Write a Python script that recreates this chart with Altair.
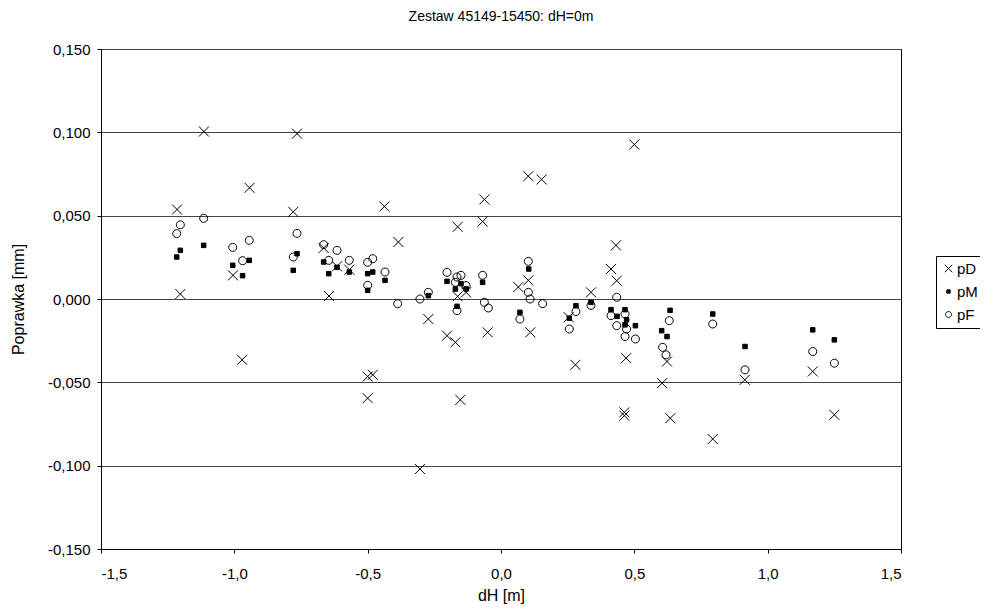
import altair as alt
import pandas as pd

# pD series (crosses)
pD_x = [-1.215, -1.2025, -1.114, -1.005, -0.971, -0.943, -0.779, -0.765, -0.665, -0.645,
        -0.615, -0.569, -0.500, -0.481, -0.500, -0.4375, -0.385, -0.304, -0.2725, -0.2025,
        -0.171, -0.1625, -0.1625, -0.1525, -0.131, -0.069, -0.0625, -0.050, 0.065, 0.1025,
        0.1025, 0.110, 0.1525, 0.254, 0.279, 0.3375, 0.4125, 0.431, 0.434, 0.4625,
        0.4625, 0.469, 0.500, 0.604, 0.6225, 0.635, 0.794, 0.914, 1.169, 1.250]
pD_y = [0.0537, 0.0030, 0.1005, 0.0142, -0.0365, 0.0667, 0.0523, 0.0992, 0.0306, 0.0018,
        0.0196, 0.0176, -0.0465, -0.0455, -0.0595, 0.0555, 0.0342, -0.1020, -0.0120, -0.0220,
        -0.0260, 0.0433, 0.0016, -0.0605, 0.0040, 0.0465, 0.0597, -0.0200, 0.0072, 0.0737,
        0.0112, -0.0200, 0.0717, -0.0110, -0.0395, 0.0040, 0.0180, 0.0322, 0.0110, -0.0680,
        -0.0700, -0.0355, 0.0927, -0.0505, -0.0375, -0.0715, -0.0840, -0.0485, -0.0435, -0.0695]

# pM series (filled squares)
pM_x = [-1.216, -1.2025, -1.115, -1.006, -0.969, -0.944, -0.779, -0.765, -0.665, -0.646,
        -0.615, -0.569, -0.500, -0.481, -0.500, -0.435, -0.2725, -0.2025, -0.171, -0.165,
        -0.150, -0.131, -0.069, 0.071, 0.104, 0.281, 0.256, 0.3375, 0.4125, 0.435,
        0.465, 0.471, 0.465, 0.504, 0.634, 0.6025, 0.6225, 0.794, 0.915, 1.169, 1.250]
pM_y = [0.0252, 0.0292, 0.0322, 0.0202, 0.0140, 0.0232, 0.0172, 0.0272, 0.0222, 0.0152,
        0.0190, 0.0162, 0.0152, 0.0162, 0.0052, 0.0112, 0.0020, 0.0106, 0.0060, -0.0044,
        0.0092, 0.0060, 0.0100, -0.0080, 0.0180, -0.0040, -0.0115, -0.0020, -0.0064, -0.0104,
        -0.0064, -0.0124, -0.0155, -0.0160, -0.0068, -0.0190, -0.0225, -0.0090, -0.0285, -0.0185, -0.0245]

# pF series (open circles)
pF_x = [-1.2025, -1.216, -1.115, -1.006, -0.944, -0.969, -0.765, -0.779, -0.665, -0.615,
        -0.646, -0.569, -0.500, -0.481, -0.435, -0.500, -0.3875, -0.304, -0.2725, -0.2025,
        -0.165, -0.150, -0.171, -0.131, -0.165, -0.069, -0.0625, -0.0475, 0.1025, 0.1025,
        0.109, 0.071, 0.156, 0.281, 0.256, 0.3375, 0.434, 0.4125, 0.465, 0.434,
        0.471, 0.465, 0.504, 0.631, 0.606, 0.619, 0.794, 0.915, 1.169, 1.250]
pF_y = [0.0445, 0.0392, 0.0484, 0.0310, 0.0352, 0.0230, 0.0394, 0.0252, 0.0326, 0.0292,
        0.0232, 0.0232, 0.0220, 0.0242, 0.0162, 0.0082, -0.0028, 0.0000, 0.0040, 0.0160,
        0.0132, 0.0142, 0.0100, 0.0080, -0.0070, 0.0142, -0.0020, -0.0054, 0.0226, 0.0040,
        0.0000, -0.0120, -0.0028, -0.0075, -0.0180, -0.0038, 0.0010, -0.0100, -0.0090, -0.0160,
        -0.0180, -0.0225, -0.0240, -0.0130, -0.0290, -0.0335, -0.0150, -0.0425, -0.0315, -0.0385]

series_names = ["pD", "pM", "pF"]
x_ticks = [-1.5, -1.0, -0.5, 0.0, 0.5, 1.0, 1.5]
y_ticks = [-0.15, -0.10, -0.05, 0.0, 0.05, 0.10, 0.15]

rows = []
for name, xs, ys in [("pD", pD_x, pD_y), ("pM", pM_x, pM_y), ("pF", pF_x, pF_y)]:
    for a, b in zip(xs, ys):
        rows.append({"dH": a, "p": b, "series": name})
df = pd.DataFrame(rows)

cross = "M-1,-1L1,1M-1,1L1,-1"
square = "M-0.45,-0.45H0.45V0.45H-0.45Z"
circle = "M0.8,0A0.8,0.8 0 1,1 -0.8,0A0.8,0.8 0 1,1 0.8,0Z"

FONT = "Liberation Sans"

legend = alt.Legend(
    title=None, orient="none", legendX=835, legendY=207,
    strokeColor="black", fillColor="white", padding=5,
    labelFontSize=15, labelFont=FONT, labelColor="black",
    symbolSize=55, symbolStrokeColor="black", symbolStrokeWidth=1,
    rowPadding=7, labelOffset=1, cornerRadius=0,
)

points = alt.Chart(df).mark_point(strokeWidth=1, opacity=1, size=100).encode(
    x=alt.X("dH:Q", scale=alt.Scale(domain=[-1.5, 1.5], nice=False, zero=False),
            axis=alt.Axis(values=x_ticks, title="dH [m]", grid=False,
                          labelExpr="(datum.value<0?'-':'') + replace(format(abs(datum.value),'.1f'),'.',',')",
                          tickSize=4, labelPadding=13, titlePadding=6)),
    y=alt.Y("p:Q", scale=alt.Scale(domain=[-0.15, 0.15], nice=False, zero=False),
            axis=alt.Axis(values=y_ticks, title="Poprawka [mm]", grid=True,
                          gridColor="#444", gridWidth=1, gridOpacity=1,
                          labelExpr="(datum.value<0?'-':'') + replace(format(abs(datum.value),'.3f'),'.',',')",
                          tickSize=4, labelPadding=7, titlePadding=21)),
    shape=alt.Shape("series:N", scale=alt.Scale(domain=series_names, range=[cross, square, circle]),
                    legend=legend),
    fill=alt.Fill("series:N", scale=alt.Scale(domain=series_names,
                                               range=["transparent", "black", "transparent"]),
                  legend=legend),
    stroke=alt.Stroke("series:N", scale=alt.Scale(domain=series_names,
                                                   range=["black", "black", "black"]),
                      legend=legend),
)

chart = points.properties(
    width=800, height=500,
    background="white",
    title=alt.TitleParams("Zestaw 45149-15450: dH=0m", fontSize=14, font=FONT,
                          fontWeight="normal", color="black", offset=18, anchor="middle"),
    autosize=alt.AutoSizeParams(type="none"),
    padding={"left": 93, "top": 41, "right": 79, "bottom": 58},
).configure_axis(
    domainColor="black", tickColor="black", labelColor="black", titleColor="black",
    labelFont=FONT, titleFont=FONT, labelFontSize=15, titleFontSize=16,
    titleFontWeight="normal", domainWidth=1,
).configure_view(stroke="black", strokeWidth=1)

chart.save("out.html", embed_options={"renderer": "svg", "actions": False})
